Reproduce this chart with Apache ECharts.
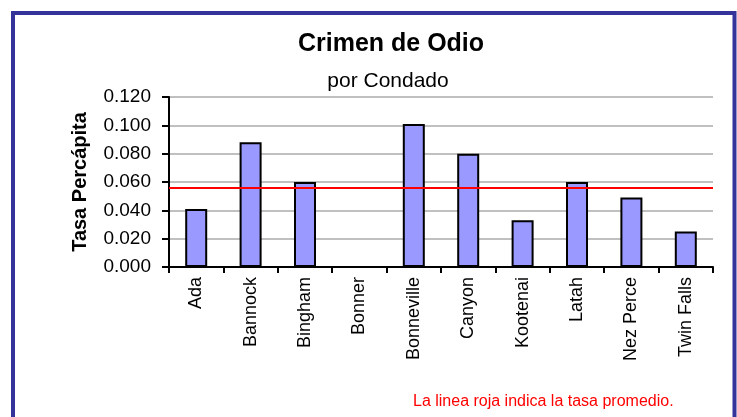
<!DOCTYPE html>
<html lang="es">

<head>
    <meta charset="UTF-8">
    <title>Crimen de Odio</title>
    <style>
        html, body {
            margin: 0;
            padding: 0;
            background: #fff;
        }

        #chart {
            width: 737px;
            height: 417px;
        }
    </style>
</head>

<body>
    <div id="chart"></div>
</body>
<script type="text/javascript" src="https://cdn.jsdelivr.net/npm/echarts@6/dist/echarts.min.js"></script>
<script type="text/javascript">
    // condados y tasas per capita
    var condados = ['Ada', 'Bannock', 'Bingham', 'Bonner', 'Bonneville', 'Canyon', 'Kootenai', 'Latah', 'Nez Perce', 'Twin Falls'];
    var tasas = [0.041, 0.088, 0.060, 0, 0.101, 0.080, 0.033, 0.060, 0.049, 0.025];
    // tasa promedio (linea roja)
    var promedio = [0.056];
    var yTicks = [0, 0.02, 0.04, 0.06, 0.08, 0.1, 0.12];

    var fuente = 'Arial, "Liberation Sans", sans-serif';

    var option = {
        animation: false,
        title: [{
            text: 'Crimen de Odio',
            left: 386,
            top: 27,
            textAlign: 'center',
            textStyle: {
                fontFamily: fuente,
                fontSize: 25,
                fontWeight: 'bold',
                color: '#000'
            }
        }, {
            text: 'por Condado',
            left: 383,
            top: 66,
            textAlign: 'center',
            textStyle: {
                fontFamily: fuente,
                fontSize: 21,
                fontWeight: 'normal',
                color: '#000'
            }
        }],
        grid: {
            left: 169,
            right: 24,
            top: 97,
            bottom: 150
        },
        xAxis: {
            type: 'category',
            data: condados,
            axisLine: {
                lineStyle: { color: '#000', width: 2 }
            },
            axisTick: {
                show: true,
                length: 6,
                lineStyle: { color: '#000', width: 2 }
            },
            axisLabel: {
                rotate: 90,
                margin: 10,
                interval: 0,
                fontFamily: fuente,
                fontSize: 18,
                color: '#000'
            }
        },
        yAxis: {
            type: 'value',
            min: yTicks[0],
            max: yTicks[yTicks.length - 1],
            interval: 0.02,
            name: 'Tasa Percápita',
            nameLocation: 'middle',
            nameGap: 79,
            nameTextStyle: {
                fontFamily: fuente,
                fontSize: 20,
                fontWeight: 'bold',
                color: '#000'
            },
            axisLine: {
                show: true,
                lineStyle: { color: '#000', width: 2 }
            },
            axisTick: {
                show: true,
                length: 7,
                lineStyle: { color: '#000', width: 2 }
            },
            axisLabel: {
                margin: 18,
                fontFamily: fuente,
                fontSize: 19,
                color: '#000',
                formatter: function (v) {
                    return v.toFixed(3)
                }
            },
            splitLine: {
                lineStyle: { color: '#c0c0c0', width: 2 }
            }
        },
        series: [{
            type: 'bar',
            data: tasas,
            barWidth: 22,
            itemStyle: {
                color: '#9999ff',
                borderColor: '#000',
                borderWidth: 2
            },
            markLine: {
                silent: true,
                precision: 4,
                symbol: ['none', 'none'],
                label: { show: false },
                lineStyle: {
                    color: '#ff0000',
                    width: 2,
                    type: 'solid'
                },
                data: [{ yAxis: promedio[0] }]
            }
        }],
        graphic: [{
            type: 'rect',
            shape: { x: 13, y: 13, width: 721.5, height: 420 },
            style: {
                fill: 'none',
                stroke: '#333399',
                lineWidth: 4
            },
            silent: true
        }, {
            type: 'text',
            left: 413,
            top: 394,
            style: {
                text: 'La linea roja indica la tasa promedio.',
                fill: '#ff0000',
                font: '16px ' + fuente
            }
        }]
    };

    //初始化echarts实例
    var myChart = echarts.init(document.getElementById('chart'))
    myChart.setOption(option)
</script>

</html>
